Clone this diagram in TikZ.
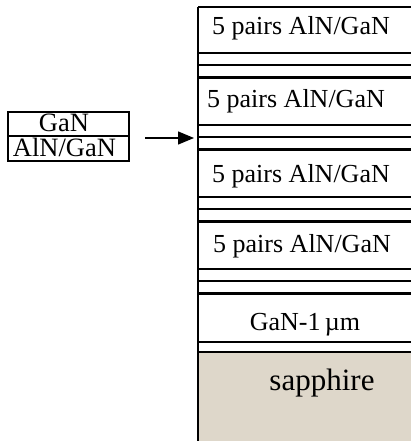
\documentclass[tikz,border=0pt]{standalone}
\usepackage{fontspec}
\setmainfont{Liberation Serif}
\usetikzlibrary{arrows.meta}
\definecolor{sapph}{RGB}{222,215,202}
\tikzset{
  thinl/.style={line width=1.2pt},
  thickl/.style={line width=2.6pt},
  lbl/.style={inner sep=0pt, anchor=base west, font=\fontsize{26}{28}\selectfont},
  clbl/.style={inner sep=0pt, anchor=base, font=\fontsize{26}{28}\selectfont},
  boxl/.style={inner sep=0pt, anchor=base, font=\fontsize{26.5}{28}\selectfont}
}
\begin{document}
\begin{tikzpicture}[x=1pt,y=-1pt]
\useasboundingbox (0,0) rectangle (411,441);
% sapphire
\fill[sapph] (198,352) rectangle (411,441);
% stack lines
\draw[line width=1.5pt] (198,7) -- (411,7);
\foreach \t in {0,72,144,216}{
  \draw[thinl] (198,53+\t) -- (411,53+\t);
  \draw[thinl] (198,65+\t) -- (411,65+\t);
  \draw[thickl] (198,77.5+\t) -- (411,77.5+\t);
}
\draw[thinl] (198,342) -- (411,342);
\draw[thinl] (198,352) -- (411,352);
\draw[line width=1.5pt] (198,7) -- (198,441);
% stack labels
\node[lbl] (b1) at (212,35) {5 pairs AlN/GaN};
\node[lbl] (b2) at (207,107) {5 pairs AlN/GaN};
\node[lbl] (b3) at (212,182) {5 pairs AlN/GaN};
\node[lbl] (b4) at (213,252) {5 pairs AlN/GaN};
\node[clbl] (gan1) at (305,330) {GaN-1\,µm};
\node[clbl, font=\fontsize{31}{33}\selectfont] (sap) at (322,390) {sapphire};
% left box
\draw[line width=1.4pt] (8,112) rectangle (129,161);
\draw[line width=2pt] (8,136) -- (129,136);
\node[boxl] (gan) at (64,131) {GaN};
\node[boxl] (aln) at (64.5,156) {AlN/GaN};
% arrow
\coordinate (arrtail) at (145,138);
\coordinate (arrtip) at (194,138);
\draw[line width=1.3pt, -{Triangle[length=16pt,width=13pt]}] (arrtail) -- (arrtip);
\end{tikzpicture}
\end{document}
